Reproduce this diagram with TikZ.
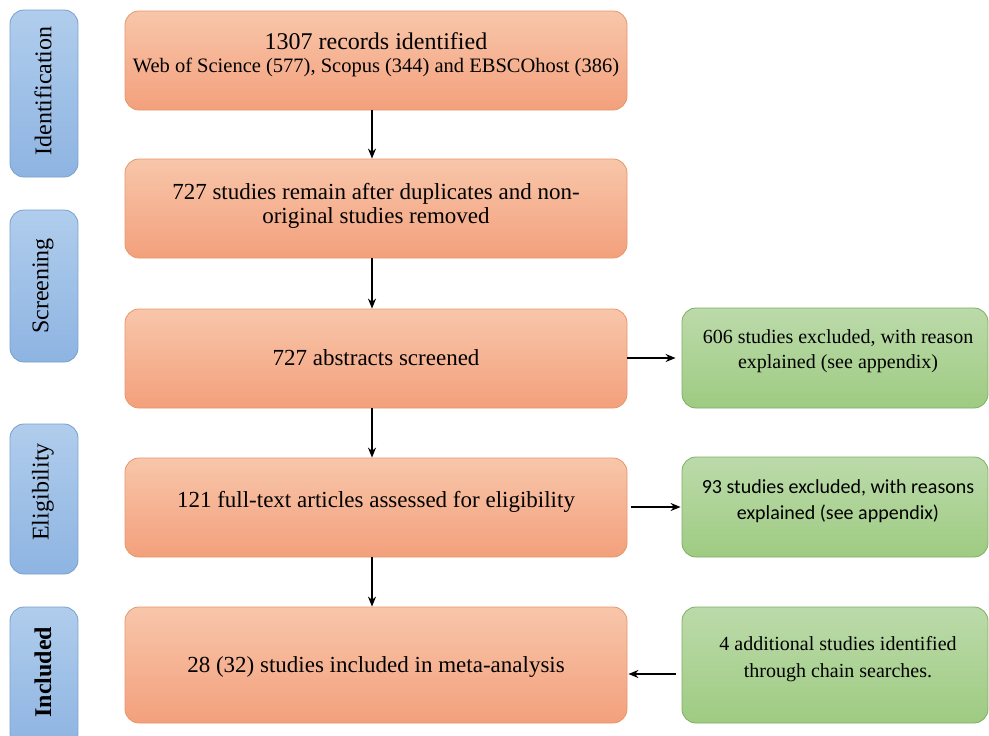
\documentclass[tikz,border=0pt]{standalone}
\usepackage{fontspec}
\setmainfont{Liberation Serif}
\newfontfamily\calib{Carlito}
\usetikzlibrary{arrows.meta}
\definecolor{orTop}{RGB}{248,198,170}
\definecolor{orBot}{RGB}{243,160,124}
\definecolor{orLine}{RGB}{232,150,105}
\definecolor{grTop}{RGB}{188,218,170}
\definecolor{grBot}{RGB}{158,203,130}
\definecolor{grLine}{RGB}{125,175,95}
\definecolor{blTop}{RGB}{176,205,236}
\definecolor{blBot}{RGB}{142,180,226}
\definecolor{blLine}{RGB}{120,160,205}
\newcommand{\mylines}[3]{\fontsize{#1}{#2}\selectfont\begin{tabular}{@{}c@{}}#3\end{tabular}}
\begin{document}
\begin{tikzpicture}[x=1pt,y=-1pt,
  box/.style={rounded corners=14pt, line width=0.8pt, inner sep=0pt},
  obox/.style={box, draw=orLine, top color=orTop, bottom color=orBot, minimum width=502pt},
  gbox/.style={box, draw=grLine, top color=grTop, bottom color=grBot, minimum width=306pt},
  bbox/.style={box, draw=blLine, top color=blTop, bottom color=blBot, minimum width=68pt},
  txt/.style={inner sep=0pt},
  phase/.style={rotate=90, font=\fontsize{24}{26}\selectfont, inner sep=0pt},
  arr/.style={-{Stealth[length=10pt,width=8pt]}, line width=1.5pt, black}
]
\clip (0,0) rectangle (989,736);
\fill[white] (0,0) rectangle (989,736);

% phase boxes
\node[bbox, minimum height=167pt] (l1) at (44,93.5) {};
\node[bbox, minimum height=152pt] (l2) at (44,286) {};
\node[bbox, minimum height=150pt] (l3) at (44,499) {};
\node[bbox, minimum height=140pt] (l4) at (44,677) {};
\node[phase] (p1) at (43,91) {Identification};
\node[phase] (p2) at (43,286) {Screening};
\node[phase] (p3) at (43,492) {Eligibility};
\node[phase, font=\fontsize{24}{26}\selectfont\bfseries] (p4) at (43,672) {Included};

% main boxes
\node[obox, minimum height=99pt] (b1) at (376,60.5) {};
\node[obox, minimum height=99pt] (b2) at (376,208.5) {};
\node[obox, minimum height=99pt] (b3) at (376,358.5) {};
\node[obox, minimum height=99pt] (b4) at (376,507.5) {};
\node[obox, minimum height=116pt] (b5) at (376,665) {};

\node[txt] (t1) at (376,56)
  {\mylines{20.5}{23}{\fontsize{24}{23}\selectfont 1307 records identified\\
   Web of Science (577), Scopus (344) and EBSCOhost (386)}};
\node[txt] (t2) at (376,207) {\mylines{23}{24}{727 studies remain after duplicates and non-\\original studies removed}};
\node[txt] (t3) at (376,361) {\mylines{23}{24}{727 abstracts screened}};
\node[txt] (t4) at (376,503) {\mylines{23}{24}{121 full-text articles assessed for eligibility}};
\node[txt] (t5) at (376,668) {\mylines{23}{24}{28 (32) studies included in meta-analysis}};

% side boxes
\node[gbox, minimum height=100pt] (g1) at (835,358) {};
\node[gbox, minimum height=100pt] (g2) at (835,507) {};
\node[gbox, minimum height=116pt] (g3) at (835,665) {};
\node[txt] (s1) at (838,351) {\mylines{20}{25}{606 studies excluded, with reason\\explained (see appendix)}};
\node[txt] (s2) at (838,501) {\calib\mylines{20}{26}{93 studies excluded, with reasons\\explained (see appendix)}};
\node[txt] (s3) at (838,659) {\mylines{20}{27}{4 additional studies identified\\through chain searches.}};

% connectors
\draw[arr] ([xshift=-4pt]b1.south) -- ([xshift=-4pt]b2.north);
\draw[arr] ([xshift=-4pt]b2.south) -- ([xshift=-4pt]b3.north);
\draw[arr] ([xshift=-4pt]b3.south) -- ([xshift=-4pt]b4.north);
\draw[arr] ([xshift=-4pt]b4.south) -- ([xshift=-4pt]b5.north);
\draw[arr, shorten >=6pt] ([yshift=0.5pt]b3.east) -- ([yshift=0.5pt]b3.east -| g1.west);
\draw[arr, shorten <=4pt, shorten >=1pt] ([yshift=0.5pt]b4.east) -- ([yshift=0.5pt]b4.east -| g2.west);
\draw[arr, shorten <=6pt, shorten >=1pt] ([yshift=-9pt]g3.west) -- ([yshift=-9pt]g3.west -| b5.east);
\end{tikzpicture}
\end{document}
